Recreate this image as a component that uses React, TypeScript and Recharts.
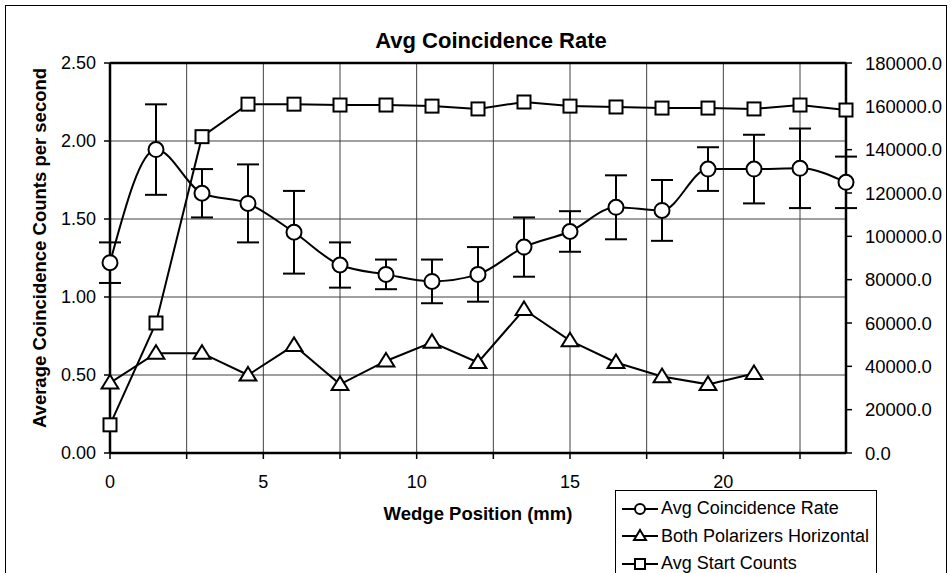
import { ComposedChart, Line, XAxis, YAxis, CartesianGrid, ErrorBar, ReferenceLine } from 'recharts'

// Wedge positions (mm) and the three measured series
const positions = [0, 1.5, 3, 4.5, 6, 7.5, 9, 10.5, 12, 13.5, 15, 16.5, 18, 19.5, 21, 22.5, 24]
const coincidenceRate = [1.22, 1.945, 1.665, 1.6, 1.415, 1.205, 1.145, 1.1, 1.145, 1.32, 1.42, 1.575, 1.555, 1.82, 1.82, 1.825, 1.735]
const coincidenceErr = [0.13, 0.29, 0.155, 0.25, 0.265, 0.145, 0.095, 0.14, 0.175, 0.19, 0.13, 0.205, 0.195, 0.14, 0.22, 0.255, 0.165]
const bothHorizontal = [0.45, 0.64, 0.64, 0.5, 0.69, 0.44, 0.59, 0.71, 0.58, 0.92, 0.72, 0.58, 0.49, 0.44, 0.51, null, null]
const startCounts = [13000, 60000, 146000, 161000, 161000, 160600, 160600, 160100, 158800, 162000, 160100, 159700, 159200, 159200, 158800, 160600, 158300]

const xTicks = [0, 2.5, 5, 7.5, 10, 12.5, 15, 17.5, 20, 22.5]
const leftTicks = [0, 0.5, 1, 1.5, 2, 2.5]
const rightTicks = [0, 20000, 40000, 60000, 80000, 100000, 120000, 140000, 160000, 180000]

const seriesNames = ['Avg Coincidence Rate', 'Both Polarizers Horizontal', 'Avg Start Counts']

const chartData = positions.map((x, i) => ({
  x,
  rate: coincidenceRate[i],
  err: coincidenceErr[i],
  horiz: bothHorizontal[i],
  start: startCounts[i],
}))

const FONT = '"Liberation Sans", Arial, sans-serif'

function TriangleDot(props: any) {
  const { cx, cy, index } = props
  if (cx == null || cy == null) return <g key={`t-${index}`} />
  const s = 8
  return (
    <path
      key={`t-${index}`}
      d={`M${cx},${cy - s} L${cx + s * 1.05},${cy + s * 0.7} L${cx - s * 1.05},${cy + s * 0.7} Z`}
      fill="#fff"
      stroke="#000"
      strokeWidth={2}
    />
  )
}

function SquareDot(props: any) {
  const { cx, cy, index } = props
  if (cx == null || cy == null) return <g key={`s-${index}`} />
  const h = 6.5
  return <rect key={`s-${index}`} x={cx - h} y={cy - h} width={h * 2} height={h * 2} fill="#fff" stroke="#000" strokeWidth={2} />
}

function LegendIcon({ kind }: { kind: number }) {
  return (
    <svg width={38} height={16} style={{ display: 'block' }}>
      <line x1={1} y1={8} x2={37} y2={8} stroke="#000" strokeWidth={2} />
      {kind === 0 && <circle cx={19} cy={8} r={5} fill="#fff" stroke="#000" strokeWidth={2} />}
      {kind === 1 && <path d="M19,2 L25,12 L13,12 Z" fill="#fff" stroke="#000" strokeWidth={2} />}
      {kind === 2 && <rect x={14} y={3} width={10} height={10} fill="#fff" stroke="#000" strokeWidth={2} />}
    </svg>
  )
}

export default function App() {
  return (
    <div style={{ position: 'absolute', left: 0, top: 0, width: 952, height: 573, background: '#fff', overflow: 'hidden', fontFamily: FONT }}>
      <div style={{ position: 'absolute', left: 5, top: 5, width: 940, height: 620, border: '1px solid #000' }} />
      <ComposedChart
        width={952}
        height={573}
        data={chartData}
        margin={{ top: 63, right: 6, bottom: 80, left: 40 }}
        style={{ position: 'absolute', left: 0, top: 0 }}
      >
        <CartesianGrid yAxisId="left" stroke="#404040" strokeWidth={1} />
        <XAxis
          dataKey="x"
          type="number"
          domain={[0, 24]}
          ticks={xTicks}
          tickFormatter={(v: number) => (v % 5 === 0 ? String(v) : '')}
          height={40}
          axisLine={{ stroke: '#000', strokeWidth: 2.5 }}
          tickLine={{ stroke: '#000', strokeWidth: 1.5 }}
          tickSize={6}
          tickMargin={16}
          tick={{ fill: '#000', fontSize: 18, fontFamily: FONT }}
          label={{
            content: () => (
              <text x={478} y={513} textAnchor="middle" dominantBaseline="central" fontSize={18.5} fontWeight="bold" fontFamily={FONT} fill="#000">
                Wedge Position (mm)
              </text>
            ),
          }}
        />
        <YAxis
          yAxisId="left"
          domain={[0, 2.5]}
          ticks={leftTicks}
          tickFormatter={(v: number) => v.toFixed(2)}
          width={70}
          axisLine={{ stroke: '#000', strokeWidth: 2.5 }}
          tickLine={{ stroke: '#000', strokeWidth: 1.5 }}
          tickSize={6}
          tickMargin={8}
          tick={{ fill: '#000', fontSize: 18, fontFamily: FONT }}
          label={{
            content: () => (
              <text
                x={39}
                y={248}
                transform="rotate(-90 39 248)"
                textAnchor="middle"
                dominantBaseline="central"
                fontSize={18.5}
                fontWeight="bold"
                fontFamily={FONT}
                fill="#000"
              >
                Average Coincidence Counts per second
              </text>
            ),
          }}
        />
        <YAxis
          yAxisId="right"
          orientation="right"
          domain={[0, 180000]}
          ticks={rightTicks}
          tickFormatter={(v: number) => v.toFixed(1)}
          width={100}
          axisLine={{ stroke: '#000', strokeWidth: 2.5 }}
          tickLine={{ stroke: '#000', strokeWidth: 1.5 }}
          tickSize={6}
          tickMargin={13}
          tick={{ fill: '#000', fontSize: 18.5, fontFamily: FONT }}
        />
        <ReferenceLine yAxisId="left" y={2.5} stroke="#000" strokeWidth={2.5} />
        <Line
          yAxisId="left"
          dataKey="rate"
          type="monotone"
          stroke="#000"
          strokeWidth={2}
          dot={{ r: 7.5, fill: '#fff', stroke: '#000', strokeWidth: 2 }}
          activeDot={false}
          isAnimationActive={false}
        >
          <ErrorBar dataKey="err" direction="y" width={11} stroke="#000" strokeWidth={2} isAnimationActive={false} />
        </Line>
        <Line
          yAxisId="left"
          dataKey="horiz"
          type="linear"
          stroke="#000"
          strokeWidth={2}
          dot={(p: any) => <TriangleDot {...p} />}
          activeDot={false}
          isAnimationActive={false}
        />
        <Line
          yAxisId="right"
          dataKey="start"
          type="linear"
          stroke="#000"
          strokeWidth={2}
          dot={(p: any) => <SquareDot {...p} />}
          activeDot={false}
          isAnimationActive={false}
        />
      </ComposedChart>
      <div
        style={{
          position: 'absolute',
          left: 491,
          top: 28,
          width: 0,
          display: 'flex',
          justifyContent: 'center',
          whiteSpace: 'nowrap',
          fontSize: 22,
          fontWeight: 'bold',
          lineHeight: '26px',
        }}
      >
        <span>Avg Coincidence Rate</span>
      </div>
      <div
        style={{
          position: 'absolute',
          left: 615,
          top: 490,
          width: 262,
          height: 110,
          border: '1px solid #000',
          background: '#fff',
          boxSizing: 'border-box',
          paddingTop: 4,
        }}
      >
        {seriesNames.map((name, i) => (
          <div key={name} style={{ display: 'flex', alignItems: 'center', height: 27.5, paddingLeft: 5 }}>
            <LegendIcon kind={i} />
            <span style={{ fontSize: 18, marginLeft: 2, whiteSpace: 'nowrap' }}>{name}</span>
          </div>
        ))}
      </div>
    </div>
  )
}
